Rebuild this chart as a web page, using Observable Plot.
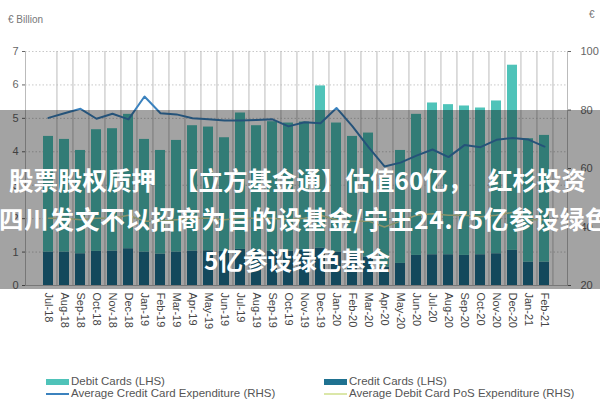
<!DOCTYPE html>
<html><head><meta charset="utf-8">
<script src="https://cdn.jsdelivr.net/npm/d3@7"></script>
<script src="https://cdn.jsdelivr.net/npm/@observablehq/plot@0.6"></script>
<style>
html,body{margin:0;padding:0;background:#fff;}
#wrap{position:relative;width:600px;height:400px;overflow:hidden;font-family:"Liberation Sans",Arial,sans-serif;}
#chart{position:absolute;left:0;top:0;}
.unit{position:absolute;font-size:10px;color:#777;white-space:nowrap;}
.leg{position:absolute;font-family:"Liberation Sans Narrow","Liberation Sans",sans-serif;font-size:11.5px;color:#555;white-space:nowrap;line-height:12px;}
.sw{display:inline-block;vertical-align:middle;margin-right:2px;}
#band{position:absolute;left:0;top:110px;width:600px;height:179px;background:rgba(0,0,0,0.36);}
#headline{position:absolute;left:0;top:0;}
#headline text{font-family:"Noto Sans CJK SC",sans-serif;font-weight:700;font-size:24.5px;fill:#fff;}
</style></head><body>
<div id="wrap">
  <div id="chart"></div>
  <div class="unit" style="left:8px;top:14px">€ Billion</div>
  <div class="unit" style="left:589px;top:9px">€</div>
  <div id="legend"></div>
  <div id="band"></div>
  <svg id="headline" width="600" height="400">
    <text y="190"><tspan x="9">股票股权质押</tspan><tspan x="174">【立方基金通】估值60亿，</tspan><tspan x="488">红杉投资</tspan></text>
    <text x="-1" y="229" style="letter-spacing:0.8px">四川发文不以招商为目的设基金/宁王24.75亿参设绿色</text>
    <text x="204" y="270">5亿参设绿色基金</text>
  </svg>
</div>
<script>
const months = ["Jul-18","Aug-18","Sep-18","Oct-18","Nov-18","Dec-18",
  "Jan-19","Feb-19","Mar-19","Apr-19","May-19","Jun-19","Jul-19","Aug-19","Sep-19","Oct-19","Nov-19","Dec-19",
  "Jan-20","Feb-20","Mar-20","Apr-20","May-20","Jun-20","Jul-20","Aug-20","Sep-20","Oct-20","Nov-20","Dec-20",
  "Jan-21","Feb-21"];
// € billion (LHS)
const creditCards = [1.00,1.00,0.95,1.02,1.03,1.10,1.00,0.94,1.00,1.03,1.04,1.02,1.08,1.05,1.02,1.03,1.05,1.12,
  1.00,0.95,0.85,0.55,0.66,0.90,0.92,0.92,0.90,0.92,0.95,1.05,0.70,0.70];
const debitCards = [3.46,3.37,3.09,3.64,3.66,4.02,3.37,3.10,3.34,3.75,3.70,3.40,4.08,3.73,3.88,3.83,3.84,4.85,
  3.86,3.51,3.71,2.65,3.38,4.22,4.54,4.49,4.47,4.39,4.57,5.54,3.69,3.79];
// € (RHS)
const avgCreditExp = [77.3,78.9,80.4,77.0,78.7,76.8,84.6,78.9,78.5,77.2,76.8,76.4,76.4,76.6,76.8,74.4,75.8,75.5,
  80.7,74.4,67.3,60.7,62.0,64.4,66.5,63.9,68.0,67.3,69.8,70.4,69.9,67.5];
const avgDebitPosExp = [43.0,43.0,42.5,43.0,43.0,44.0,42.0,42.0,42.5,43.0,43.0,42.5,43.0,43.0,43.0,42.5,43.0,44.0,
  42.5,42.0,42.0,40.0,42.0,44.0,44.5,44.0,44.0,43.5,44.0,45.0,42.5,42.5];
const leftTicks = [0,1,2,3,4,5,6,7];
const rightTicks = [20,40,60,80,100];
const seriesNames = ["Credit Cards (LHS)","Debit Cards (LHS)","Average Credit Card Expenditure (RHS)","Average Debit Card PoS Expenditure (RHS)"];
const colors = {credit:"#1f7190", debit:"#4fc3b9", avgCredit:"#3b82be", avgDebit:"#dbe7a9"};

// right axis (20–100) mapped onto the left axis domain (0–7)
const rMin = 20, rMax = 100, lMax = 7;
const toLeft = v => (v - rMin) * lMax / (rMax - rMin);
const fromLeft = d => Math.round(d * (rMax - rMin) / lMax + rMin);

const bars = [];
months.forEach((m,i) => {
  bars.push({month:m, series:seriesNames[0], value:creditCards[i], k:0});
  bars.push({month:m, series:seriesNames[1], value:debitCards[i], k:1});
});
const creditLine = months.map((m,i) => ({month:m, v:toLeft(avgCreditExp[i])}));
const debitLine = months.map((m,i) => ({month:m, v:toLeft(avgDebitPosExp[i])}));

const chart = Plot.plot({
  width: 600, height: 340,
  marginLeft: 25, marginRight: 33, marginTop: 51, marginBottom: 55,
  style: {fontFamily:"Liberation Sans, Arial, sans-serif", fontSize:"11px", color:"#666", background:"transparent", overflow:"visible"},
  x: {domain: months, paddingInner: 0.35, paddingOuter: 0.21, label: null},
  y: {domain: [0, 7], label: null},
  color: {domain: seriesNames.slice(0,2), range: [colors.credit, colors.debit]},
  marks: [
    Plot.gridY(leftTicks.slice(1), {stroke:"#c8c8c8", strokeOpacity:1, strokeDasharray:"1.5,2"}),
    Plot.frame({anchor:"left", stroke:"#bbb"}),
    Plot.frame({anchor:"right", stroke:"#bbb"}),
    Plot.barY(bars, {x:"month", y:"value", fill:"series", order:"k"}),
    Plot.ruleY([0], {stroke:"#bbb"}),
    Plot.tickX(months, {x: d => d, y1: 0, y2: -0.09, dx: 8.45, stroke:"#bbb"}),
    Plot.lineY(debitLine, {x:"month", y:"v", stroke:colors.avgDebit, strokeWidth:1.5}),
    Plot.lineY(creditLine, {x:"month", y:"v", stroke:colors.avgCredit, strokeWidth:2}),
    Plot.axisY(leftTicks, {anchor:"left", tickSize:3, tickPadding:4, color:"#666", fontSize:11, label:null}),
    Plot.axisY(rightTicks.map(toLeft), {anchor:"right", tickSize:3, tickPadding:10, tickFormat: fromLeft, color:"#666", fontSize:11, label:null}),
    Plot.axisX({tickRotate:90, tickSize:0, tickPadding:7, fontSize:11, color:"#444", label:null})
  ]
});
document.getElementById("chart").appendChild(chart);

// legend
const legend = document.getElementById("legend");
const items = [
  {name: seriesNames[1], color: colors.debit, kind:"rect", x:46, y:375},
  {name: seriesNames[0], color: colors.credit, kind:"rect", x:324, y:375},
  {name: seriesNames[2], color: colors.avgCredit, kind:"line", x:46, y:387},
  {name: seriesNames[3], color: colors.avgDebit, kind:"line", x:324, y:387}
];
items.forEach(it => {
  const d = document.createElement("div");
  d.className = "leg";
  d.style.left = it.x + "px"; d.style.top = it.y + "px";
  const s = document.createElement("span");
  s.className = "sw";
  s.style.width = "23px";
  s.style.height = it.kind === "rect" ? "6px" : "2px";
  s.style.background = it.color;
  d.appendChild(s);
  d.appendChild(document.createTextNode(it.name));
  legend.appendChild(d);
});
</script>
</body></html>
